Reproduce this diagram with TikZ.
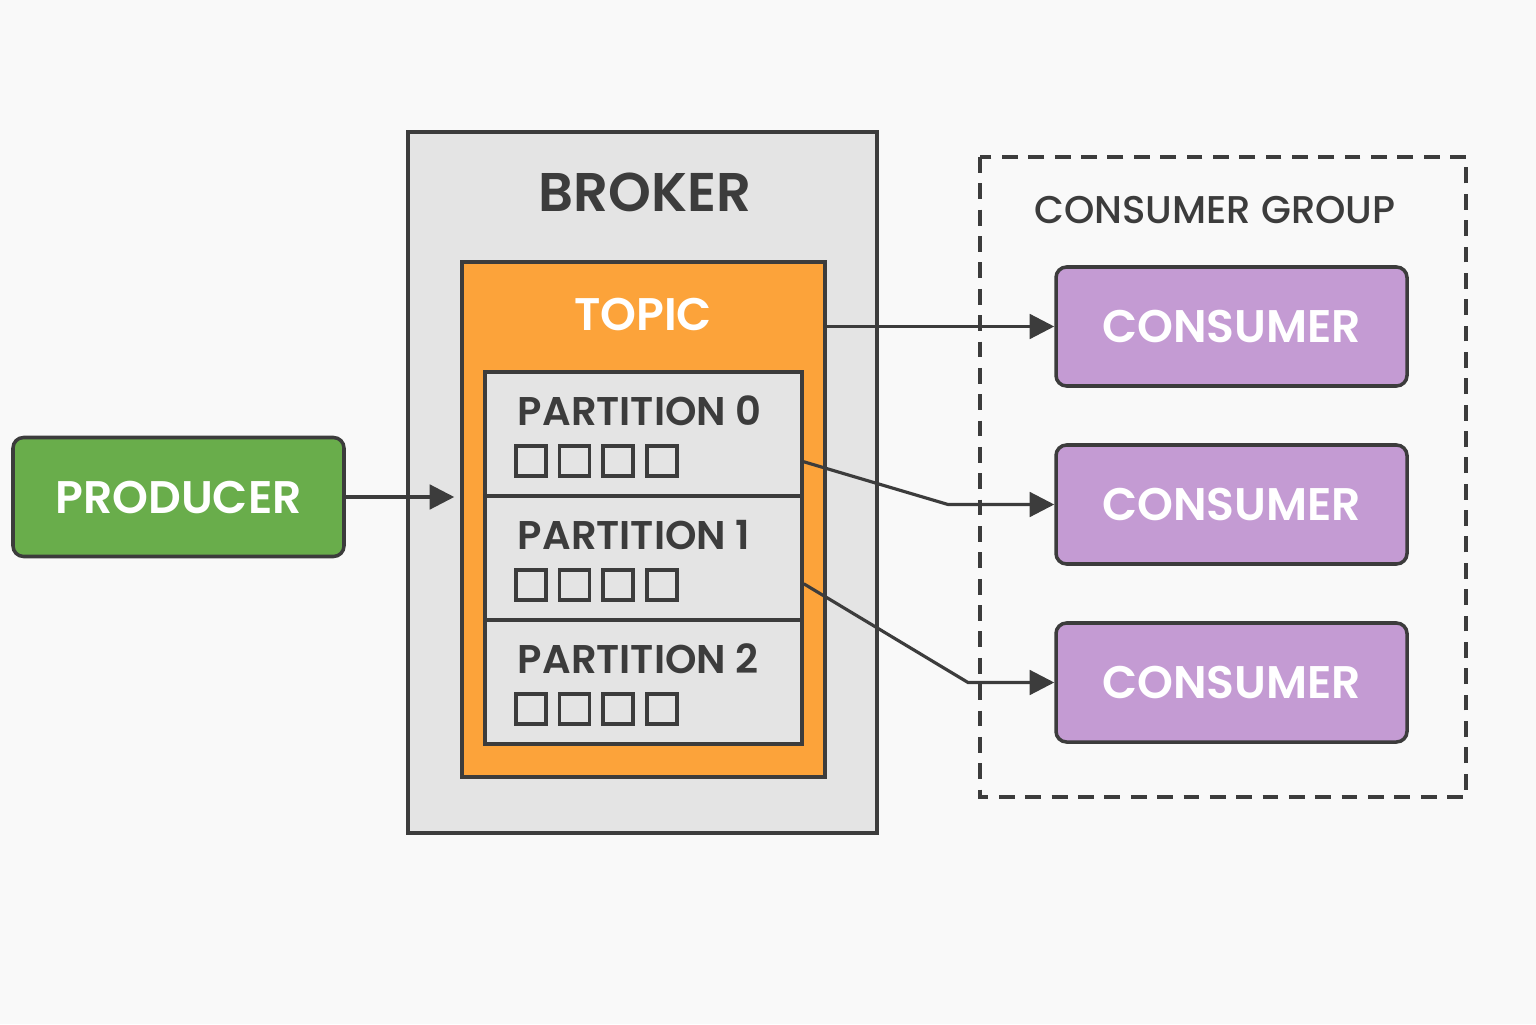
\documentclass[tikz,border=0pt]{standalone}
\usepackage{fontspec}
\setmainfont{Poppins}[BoldFont={Poppins SemiBold}]
\newfontfamily\mediumfont{Poppins Medium}
\usetikzlibrary{positioning,arrows.meta,calc}
\definecolor{pagebg}{HTML}{F9F9F9}
\definecolor{linecol}{HTML}{3C3C3C}
\definecolor{brokerbg}{HTML}{E4E4E4}
\definecolor{topiccolor}{HTML}{FCA33A}
\definecolor{producercolor}{HTML}{69AD4B}
\definecolor{consumercolor}{HTML}{C49BD3}

\begin{document}
\begin{tikzpicture}[
    >={Triangle[length=7pt,width=7pt]},
    every node/.style={inner sep=0pt},
    boxnode/.style={
        rectangle,
        draw=linecol,
        line width=1pt,
        fill=#1,
    },
    actor/.style={
        rounded corners=3pt,
        draw=linecol,
        line width=1pt,
        fill=#1,
        minimum height=1.19cm,
        text=white,
        font=\fontsize{13}{15}\selectfont\bfseries,
    },
    partbox/.style={
        boxnode=brokerbg,
        minimum width=3.17cm,
        minimum height=1.24cm,
    },
    msgbox/.style={draw=linecol,line width=1.1pt,minimum size=0.30cm},
    parttext/.style={font=\fontsize{11.4}{13}\selectfont\bfseries,text=linecol,anchor=base west},
    flow/.style={->,line width=0.9pt,color=linecol},
]

% === Canvas ===
\useasboundingbox[fill=pagebg] (0,0) rectangle (15.36,10.24);

% === Broker ===
\node[boxnode=brokerbg,minimum width=4.69cm,minimum height=7.01cm] (broker) at (6.425,5.415) {};
\node[font=\fontsize{15.5}{17}\selectfont\bfseries,text=linecol] (brokerlabel) at (6.45,8.32) {BROKER};

% === Topic ===
\node[boxnode=topiccolor,minimum width=3.63cm,minimum height=5.15cm] (topic) at (6.435,5.045) {};
\node[font=\fontsize{13}{15}\selectfont\bfseries,text=white] (topiclabel) at (6.43,7.10) {TOPIC};

% === Partitions ===
\node[partbox] (part0) at (6.435,5.90) {};
\node[partbox] (part1) at (6.435,4.66) {};
\node[partbox] (part2) at (6.435,3.42) {};

\foreach \p in {0,1,2} {
    \node[parttext] (ptext\p) at ($(part\p.north west)+(0.34,-0.55)$) {PARTITION \p};
    \foreach \m [count=\k] in {0,1,2,3} {
        \node[msgbox] (msg\p\k) at ($(part\p.north west)+(0.475+0.437*\m,-0.905)$) {};
    }
}

% === Producer ===
\node[actor=producercolor,minimum width=3.31cm] (producer) at (1.785,5.27) {PRODUCER};

\draw[flow] (producer.east) -- ($(producer.east -| topic.west)+(-0.06,0)$);

% === Consumer group ===
\draw[dashed,dash pattern=on 4.5pt off 3pt,line width=0.9pt,color=linecol] (9.80,8.67) rectangle (14.66,2.27);
\node[font=\mediumfont\fontsize{11}{13}\selectfont,text=linecol] (grouplabel) at (12.15,8.14) {CONSUMER GROUP};

\node[actor=consumercolor,minimum width=3.51cm] (cons1) at (12.315,6.975) {CONSUMER};
\node[actor=consumercolor,minimum width=3.51cm] (cons2) at (12.315,5.195) {CONSUMER};
\node[actor=consumercolor,minimum width=3.51cm] (cons3) at (12.315,3.415) {CONSUMER};

% === Flows to consumers ===
\coordinate (out0) at ($(part0.south east)+(0,0.36)$);
\coordinate (out1) at ($(part1.south east)+(0,0.38)$);
\coordinate (bend0) at (9.48,5.195);
\coordinate (bend1) at (9.68,3.415);

\draw[flow] (topic.east |- cons1.west) -- (cons1.west);
\draw[flow] (out0) -- (bend0) -- (cons2.west);
\draw[flow] (out1) -- (bend1) -- (cons3.west);

\end{tikzpicture}
\end{document}
